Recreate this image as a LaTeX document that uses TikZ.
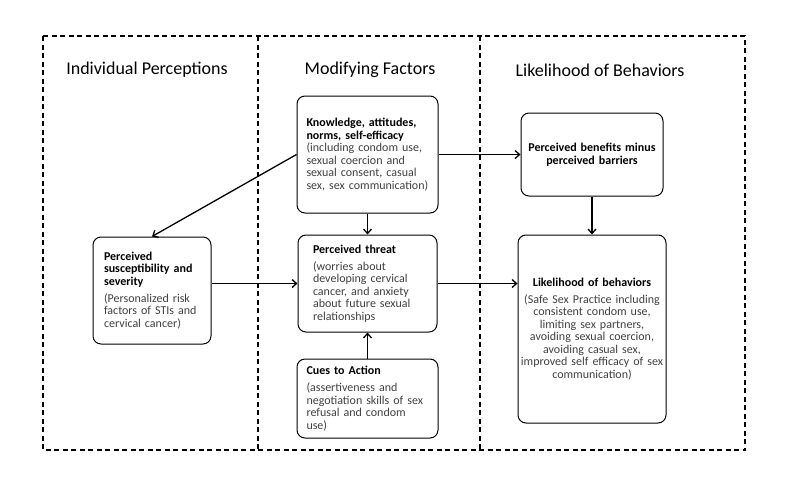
\documentclass[tikz,border=0pt]{standalone}
\usepackage{fontspec}
\setmainfont{Carlito}
\usepackage{tikz}
\usetikzlibrary{arrows.meta}

\begin{document}
\begin{tikzpicture}[x=1pt, y=-1pt,
    >={Straight Barb[length=4.5pt,width=8pt]},
    frame/.style={dash pattern=on 5pt off 3.5pt, line width=1.4pt},
    title/.style={font=\fontsize{18}{20}\selectfont},
    box/.style={rectangle, draw, rounded corners=8pt, line width=1pt, inner sep=0pt,
        text=black!75, font=\fontsize{12}{12.5}\selectfont},
    link/.style={->, line width=1.3pt}]
    \useasboundingbox (0,0) rectangle (800,493);

    % dashed columns
    \draw[frame] (43,36) rectangle (745,450);
    \draw[frame] (258,36) -- (258,450);
    \draw[frame] (480,36) -- (480,450);

    \node[title] (indiv) at (147,70) {Individual Perceptions};
    \node[title] (modif) at (370,70) {Modifying Factors};
    \node[title] (behav) at (600,70) {Likelihood of Behaviors};

    \node[box, minimum width=141pt, minimum height=117pt, text width=122pt, align=left] (know) at (367.5,154.5)
        {{\bfseries\color{black}Knowledge, attitudes,\\ norms, self-efficacy}\\ (including condom use,\\ sexual coercion and\\ sexual consent, casual\\ sex, sex communication)};
    \node[box, minimum width=142pt, minimum height=83pt, text width=130pt, align=center] (benefit) at (592,154.5)
        {{\bfseries\color{black}Perceived benefits minus\\ perceived barriers}};
    \node[box, minimum width=118pt, minimum height=107pt, text width=96pt, align=left] (suscept) at (152,290.5)
        {{\bfseries\color{black}Perceived\\ susceptibility and\\ severity}\\[4.5pt] (Personalized risk\\ factors of STIs and\\ cervical cancer)};
    \node[box, minimum width=139pt, minimum height=97pt, text width=109pt, align=left] (threat) at (367.5,283.5)
        {{\bfseries\color{black}Perceived threat}\\[4.5pt] (worries about\\ developing cervical\\ cancer, and anxiety\\ about future sexual\\ relationships};
    \node[box, minimum width=141pt, minimum height=79pt, text width=122pt, align=left] (cues) at (367.5,398.5)
        {{\bfseries\color{black}Cues to Action}\\[4.5pt] (assertiveness and\\ negotiation skills of sex\\ refusal and condom\\ use)};
    \node[box, minimum width=148pt, minimum height=188pt, text width=144pt, align=center] (likely) at (592,329)
        {{\bfseries\color{black}Likelihood of behaviors}\\[4.5pt] (Safe Sex Practice including\\ consistent condom use,\\ limiting sex partners,\\ avoiding sexual coercion,\\ avoiding casual sex,\\ improved self efficacy of sex\\ communication)};

    \draw[link] (know.south) -- (threat.north);
    \draw[link] (cues.north) -- (threat.south);
    \draw[link] (benefit.south) -- (likely.north);
    \draw[link] (know.east) -- (benefit.west);
    \draw[link] (know.west) -- (suscept.north);
    \draw[link] (suscept.east |- threat.west) -- (threat.west);
    \draw[link] (threat.east) -- (threat.east -| likely.west);
\end{tikzpicture}
\end{document}
